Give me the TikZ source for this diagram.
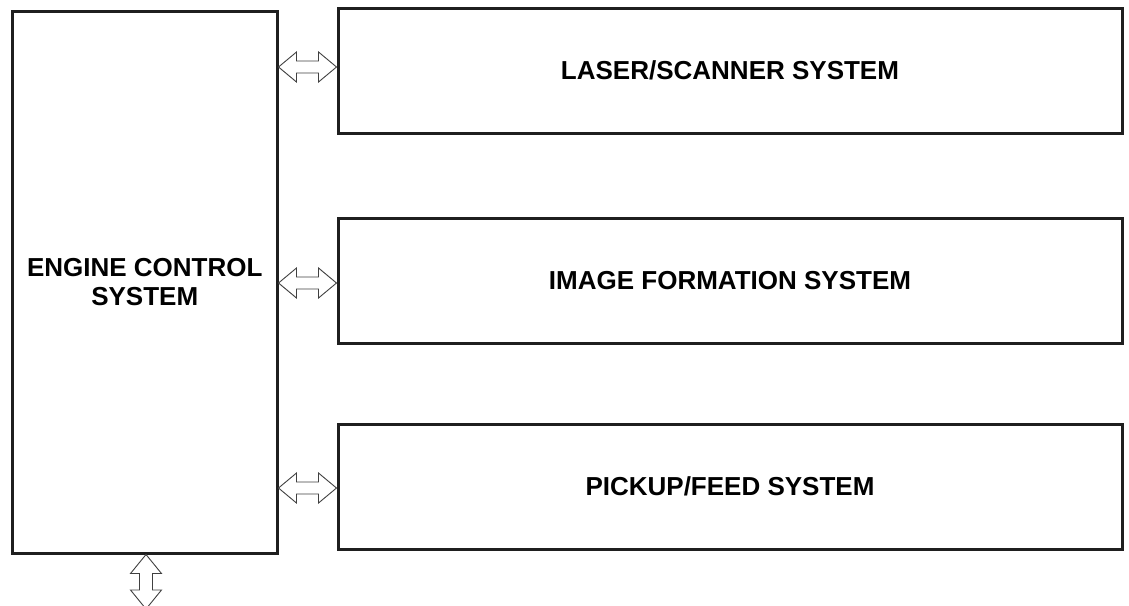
\documentclass[tikz,border=0pt]{standalone}
\usepackage{fontspec}
\setmainfont{Liberation Sans}
\usetikzlibrary{calc}
\begin{document}
\begin{tikzpicture}[x=1pt,y=-1pt,
  blk/.style={draw=black!88,line width=3pt,inner sep=0pt,font=\fontsize{26}{29}\selectfont\bfseries,align=center},
  sysbox/.style={blk,minimum width=784pt,minimum height=125pt},
  arr/.style={draw=black!75,line width=0.9pt,line join=miter,fill=white}]
\useasboundingbox (0,0) rectangle (1129,605);
\node[blk,minimum width=264.5pt,minimum height=542pt] (eng) at (144.75,282) {ENGINE CONTROL\\SYSTEM};
\node[sysbox] (las) at (730,70.5) {LASER/SCANNER SYSTEM};
\node[sysbox] (img) at (730,280.5) {IMAGE FORMATION SYSTEM};
\node[sysbox] (pick) at (730,486.5) {PICKUP/FEED SYSTEM};
\coordinate (l1) at (eng.east |- 0,67);
\coordinate (r1) at (las.west |- 0,67);
\coordinate (l2) at (eng.east |- 0,283);
\coordinate (r2) at (img.west |- 0,283);
\coordinate (l3) at (eng.east |- 0,488);
\coordinate (r3) at (pick.west |- 0,488);
\coordinate (vt) at (146,0 |- eng.south);
\coordinate (vb) at (146,609);
\foreach \i in {1,2,3}{
  \draw[arr] (l\i) -- ($(l\i)+(18,-15)$) -- ($(l\i)+(18,-6)$) -- ($(r\i)+(-18,-6)$) -- ($(r\i)+(-18,-15)$) -- (r\i)
    -- ($(r\i)+(-18,15)$) -- ($(r\i)+(-18,6)$) -- ($(l\i)+(18,6)$) -- ($(l\i)+(18,15)$) -- cycle;
}
\draw[arr] (vt) -- ($(vt)+(-15.5,19)$) -- ($(vt)+(-6.5,19)$) -- ($(vb)+(-6.5,-19)$) -- ($(vb)+(-15.5,-19)$) -- (vb)
  -- ($(vb)+(15.5,-19)$) -- ($(vb)+(6.5,-19)$) -- ($(vt)+(6.5,19)$) -- ($(vt)+(15.5,19)$) -- cycle;
\end{tikzpicture}
\end{document}
